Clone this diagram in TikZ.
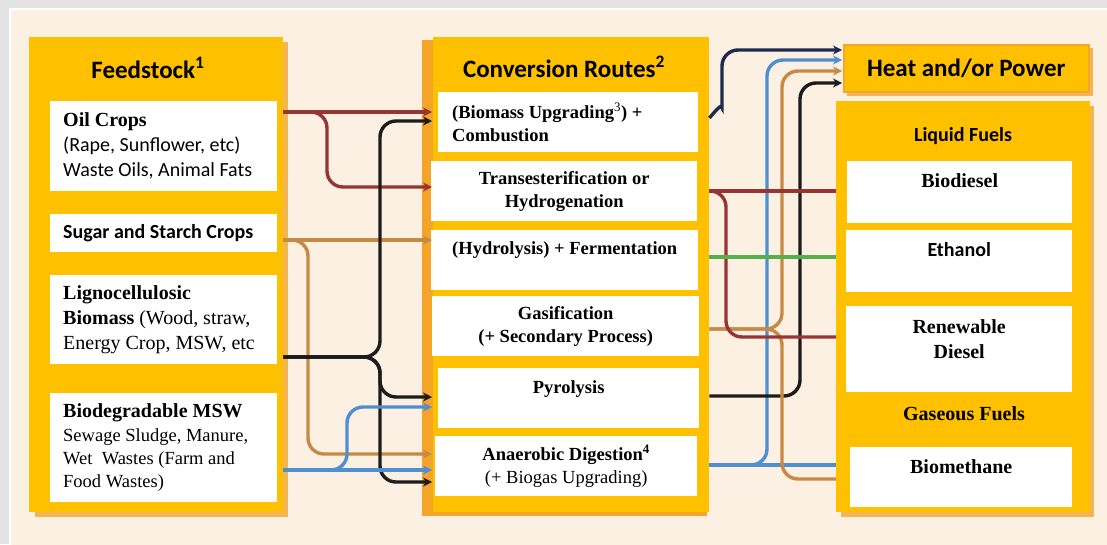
\documentclass[tikz,border=0pt]{standalone}
\usepackage{fontspec}
\setmainfont{Liberation Serif}
\setsansfont{Carlito}
\usetikzlibrary{positioning,arrows.meta}

\definecolor{gold}{HTML}{FFC000}
\definecolor{goldshade}{HTML}{F3B552}
\definecolor{routeshade}{HTML}{F4A429}
\definecolor{heatedge}{HTML}{F4A62C}
\definecolor{creambg}{HTML}{FCF0E2}
\definecolor{framegray}{HTML}{E3E3E3}
\definecolor{oilred}{HTML}{963634}
\definecolor{sugartan}{HTML}{C68A44}
\definecolor{woodblack}{HTML}{1C1C1C}
\definecolor{wetblue}{HTML}{4E8FD2}
\definecolor{ethgreen}{HTML}{55B04C}
\definecolor{heatnavy}{HTML}{1E2A50}

\begin{document}
\begin{tikzpicture}[x=1pt, y=-1pt,
        panel/.style = {fill=gold, anchor=north west, inner sep=0pt},
        whitebox/.style = {fill=white, anchor=north west, inner sep=0pt, align=center},
        title/.style = {font=\sffamily\bfseries\fontsize{25}{30}\selectfont},
        subtitle/.style = {font=\sffamily\bfseries\fontsize{20}{24}\selectfont},
        leftfont/.style = {font=\fontsize{20}{25}\selectfont, align=left, inner sep=0pt},
        midfont/.style = {font=\bfseries\fontsize{18.5}{23}\selectfont},
        fuelfont/.style = {font=\bfseries\fontsize{20}{25}\selectfont, align=center, inner sep=0pt},
        flow/.style = {draw=#1, line width=3.4pt, rounded corners=16pt},
        into/.style = {-{Stealth[length=9pt, width=9pt]}, shorten >=1pt}
    ]
    \tikzstyle{shade} = [fill=goldshade];
    \useasboundingbox (0,0) rectangle (1107,544);
    \fill[framegray] (0,0) rectangle (1107,544);
    \filldraw[fill=creambg, draw=white, line width=1.5pt] (10,9) rectangle (1115,552);

    \fill[shade] (35,42) rectangle (288,517);
    \fill[routeshade] (422,40) rectangle (707,516);
    \fill[shade] (841,106) rectangle (1094,517);
    \fill[shade] (847,48) rectangle (1093,96);

    \node [panel, minimum width=254pt, minimum height=475pt] (feed) at (29,37) {};
    \node [panel, minimum width=276pt, minimum height=475pt] (routes) at (433,37) {};
    \node [panel, minimum width=254pt, minimum height=411pt] (fuels) at (836,101) {};
    \node [panel, title, draw=heatedge, line width=1.5pt, minimum width=245pt, minimum height=47pt] (heat) at (843,44) {Heat and/or Power};

    \node [title, anchor=base] (feedT) at (148,78) {Feedstock\textsuperscript{1}};
    \node [title, anchor=base] (routesT) at (564,77) {Conversion Routes\textsuperscript{2}};
    \node [subtitle, anchor=base] (liquidT) at (963,141) {Liquid Fuels};
    \node [fuelfont, anchor=base] (gasT) at (964,420) {Gaseous Fuels};

    \node [whitebox, minimum width=227pt, minimum height=90pt] (oil) at (50,101) {};
    \node [whitebox, minimum width=227pt, minimum height=38pt] (sugar) at (50,214) {};
    \node [whitebox, minimum width=227pt, minimum height=89pt] (ligno) at (50,275) {};
    \node [whitebox, minimum width=227pt, minimum height=109pt] (msw) at (50,393) {};
    \node [leftfont, right = 13pt of oil.west] (eoil) {{\bfseries Oil Crops}\\{\sffamily (Rape, Sunflower, etc)}\\{\sffamily Waste Oils, Animal Fats}};
    \node [subtitle, inner sep=0pt, right = 13pt of sugar.west] (esugar) {Sugar and Starch Crops};
    \node [leftfont, right = 13pt of ligno.west] (eligno) {{\bfseries Lignocellulosic}\\{\bfseries Biomass} (Wood, straw,\\Energy Crop, MSW, etc};
    \node [leftfont, font=\fontsize{18.5}{23.3}\selectfont, right = 13pt of msw.west] (emsw) {{\bfseries\fontsize{20}{23.3}\selectfont Biodegradable MSW}\\Sewage Sludge, Manure,\\Wet\ \ Wastes (Farm and\\Food Wastes)};

    \node [whitebox, minimum width=260pt, minimum height=60pt] (combust) at (438,92) {};
    \node [whitebox, midfont, minimum width=266pt, minimum height=60pt] (trans) at (431,161) {Transesterification or\\Hydrogenation};
    \node [whitebox, minimum width=267pt, minimum height=60pt] (ferment) at (431,230) {};
    \node [whitebox, midfont, minimum width=267pt, minimum height=60pt] (gasif) at (432,296) {Gasification\\(+ Secondary Process)};
    \node [whitebox, minimum width=261pt, minimum height=60pt] (pyro) at (438,368) {};
    \node [whitebox, midfont, minimum width=262pt, minimum height=60pt] (digest) at (435,436) {Anaerobic Digestion\textsuperscript{4}\\{\mdseries (+ Biogas Upgrading)}};
    \node [midfont, align=left, inner sep=0pt, right = 14pt of combust.west] (ecombust) {(Biomass Upgrading\textsuperscript{\mdseries 3}) +\\Combustion};
    \node [midfont, inner sep=0pt, below = 11pt of ferment.north] (eferment) {(Hydrolysis) + Fermentation};
    \node [midfont, inner sep=0pt, below = 12pt of pyro.north] (epyro) {Pyrolysis};

    \node [whitebox, minimum width=225pt, minimum height=62pt] (biodiesel) at (847,161) {};
    \node [whitebox, minimum width=226pt, minimum height=62pt] (ethanol) at (846,230) {};
    \node [whitebox, minimum width=226pt, minimum height=86pt] (rdiesel) at (846,306) {};
    \node [whitebox, minimum width=222pt, minimum height=60pt] (biomethane) at (850,447) {};
    \node [fuelfont, below = 12pt of biodiesel.north] (ebiodiesel) {Biodiesel};
    \node [subtitle, inner sep=0pt, below = 12pt of ethanol.north] (eethanol) {Ethanol};
    \node [fuelfont, below = 13pt of rdiesel.north] (erdiesel) {Renewable\\Diesel};
    \node [fuelfont, below = 12pt of biomethane.north] (ebiomethane) {Biomethane};

    \draw [flow=oilred, into] (feed.east |- 0,112) -- (routes.west |- 0,112);
    \draw [flow=oilred, into] (feed.east |- 0,112) -| (327,187) -- (routes.west |- 0,187);
    \draw [flow=sugartan, into] (feed.east |- 0,240) -- (routes.west |- 0,240);
    \draw [flow=sugartan, into] (feed.east |- 0,240) -| (308,454) -- (routes.west |- 0,454);
    \draw [flow=woodblack, into] (feed.east |- 0,357) -| (380,121) -- (routes.west |- 0,121);
    \draw [flow=woodblack, into] (feed.east |- 0,357) -| (380,482) -- (routes.west |- 0,482);
    \draw [flow=woodblack, into] (feed.east |- 0,357) -| (380,397) -- (routes.west |- 0,397);
    \draw [flow=wetblue, into] (feed.east |- 0,470) -- (routes.west |- 0,470);
    \draw [flow=wetblue, into] (feed.east |- 0,470) -| (347,407) -- (routes.west |- 0,407);

    \draw [flow=heatnavy, into] (routes.east |- 0,118) to[out=50, in=-90] (722,92) |- (heat.west |- 0,50);
    \draw [flow=wetblue, into] (routes.east |- 0,465) -| (767,60) -- (heat.west |- 0,60);
    \draw [flow=sugartan, into] (routes.east |- 0,329) -| (782,71) -- (heat.west |- 0,71);
    \draw [flow=woodblack, into] (routes.east |- 0,396) -| (800,83) -- (heat.west |- 0,83);
    \draw [flow=wetblue] (routes.east |- 0,465) -- (fuels.west |- 0,465);
    \draw [flow=sugartan] (routes.east |- 0,329) -| (782,479) -- (fuels.west |- 0,479);
    \draw [flow=oilred] (routes.east |- 0,191) -- (fuels.west |- 0,191);
    \draw [flow=oilred] (routes.east |- 0,191) -| (726,337) -- (fuels.west |- 0,337);
    \draw [flow=ethgreen] (routes.east |- 0,257) -- (fuels.west |- 0,257);
\end{tikzpicture}
\end{document}
